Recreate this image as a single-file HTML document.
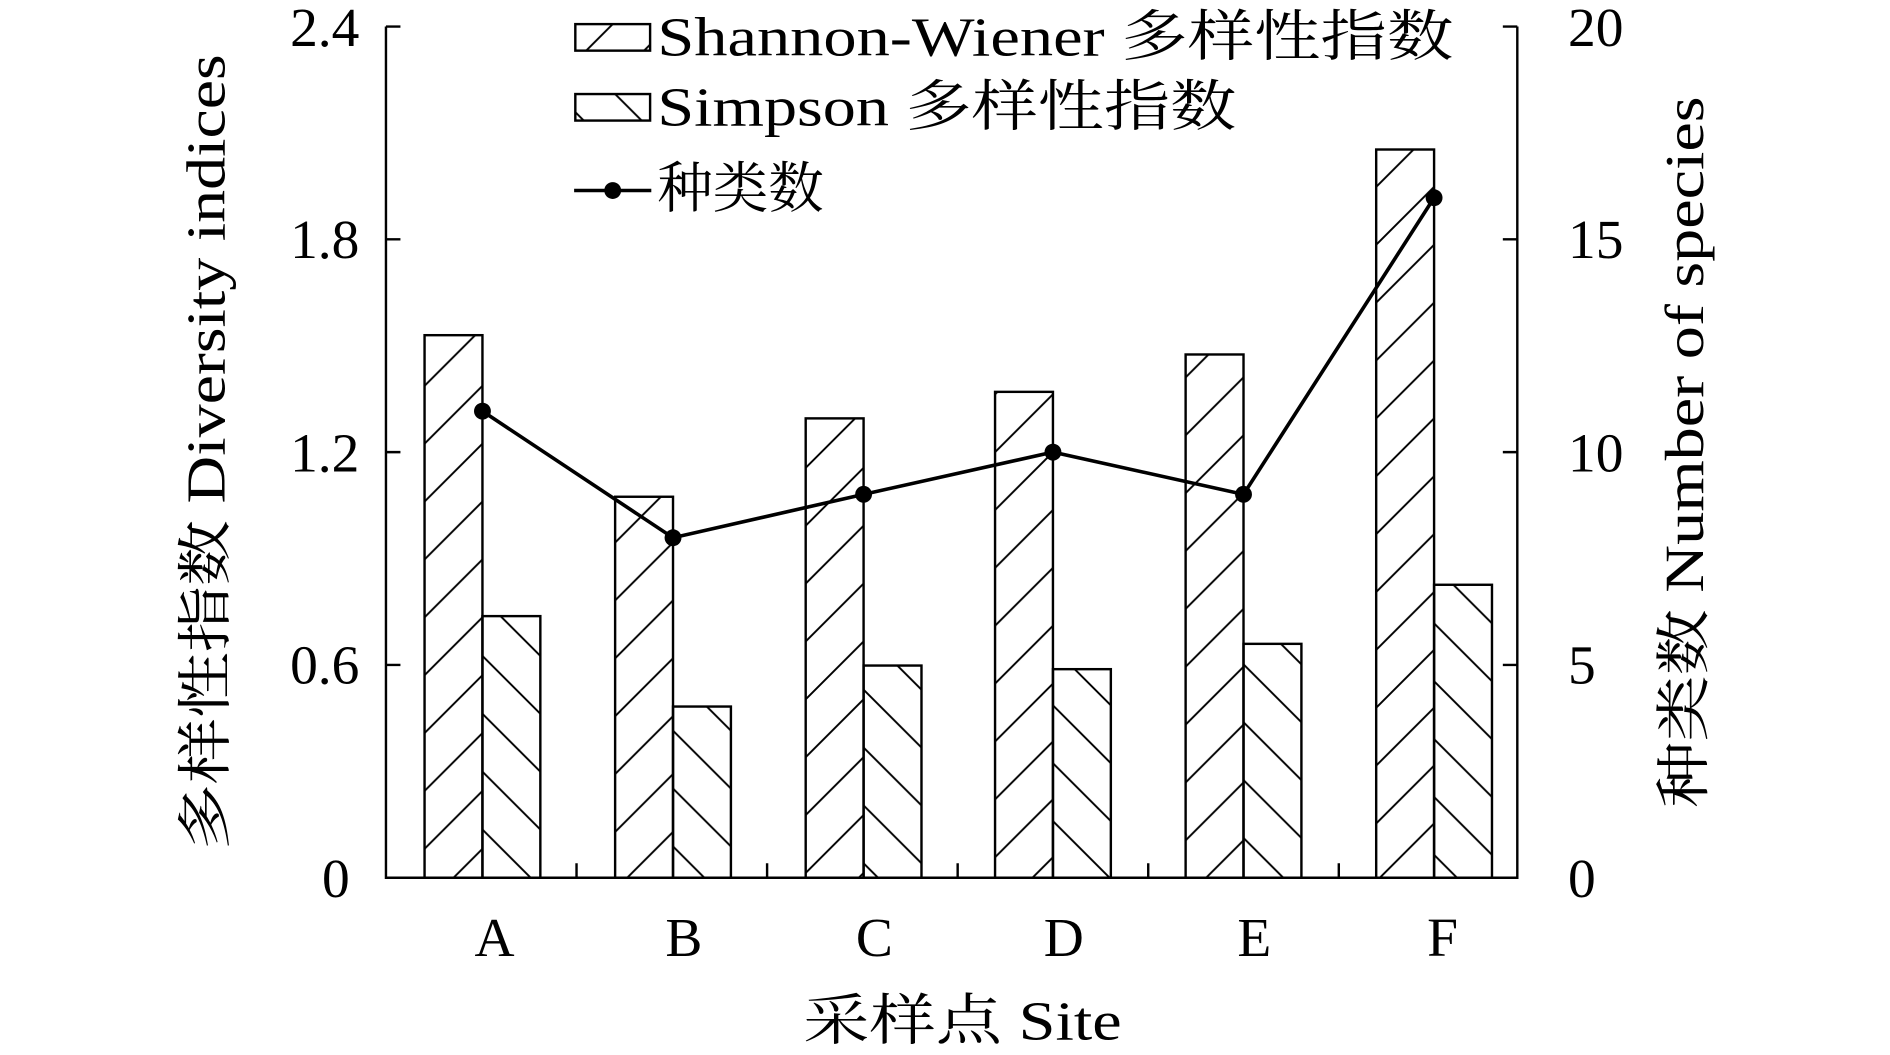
<!DOCTYPE html>
<html><head><meta charset="utf-8"><style>html,body{margin:0;padding:0;background:#fff;}svg{display:block}</style></head>
<body>
<svg width="1890" height="1055" viewBox="0 0 1567 875" preserveAspectRatio="none" xmlns="http://www.w3.org/2000/svg" style="font-family:'Liberation Serif','Noto Serif CJK SC',serif" fill="#000">
<defs>
<pattern id="p1" patternUnits="userSpaceOnUse" width="48" height="48"><path d="M-12,12 L12,-12 M0,48 L48,0 M36,60 L60,36" stroke="#000" stroke-width="1.6"/></pattern>
<pattern id="p2" patternUnits="userSpaceOnUse" width="48" height="48"><path d="M-12,36 L12,60 M0,0 L48,48 M36,-12 L60,12" stroke="#000" stroke-width="1.6"/></pattern>
</defs>
<g stroke="#000" stroke-width="2">
<rect x="352" y="278" width="48" height="450" fill="url(#p1)"/>
<rect x="510" y="412" width="48" height="316" fill="url(#p1)"/>
<rect x="668" y="347" width="48" height="381" fill="url(#p1)"/>
<rect x="825" y="325" width="48" height="403" fill="url(#p1)"/>
<rect x="983" y="294" width="48" height="434" fill="url(#p1)"/>
<rect x="1141" y="124" width="48" height="604" fill="url(#p1)"/>
<rect x="400" y="511" width="48" height="217" fill="url(#p2)"/>
<rect x="558" y="586" width="48" height="142" fill="url(#p2)"/>
<rect x="716" y="552" width="48" height="176" fill="url(#p2)"/>
<rect x="873" y="555" width="48" height="173" fill="url(#p2)"/>
<rect x="1031" y="534" width="48" height="194" fill="url(#p2)"/>
<rect x="1189" y="485" width="48" height="243" fill="url(#p2)"/>
<path d="M320,22 V728 H1258 V22" fill="none"/>
<path d="M320,22 h12 M320,198.5 h12 M320,375 h12 M320,551.5 h12 M1258,22 h-12 M1258,198.5 h-12 M1258,375 h-12 M1258,551.5 h-12 M478,728 v-12 M636,728 v-12 M794,728 v-12 M952,728 v-12 M1110,728 v-12" fill="none"/>
<polyline points="400,341 558,446 716,410 873,375 1031,410 1189,164" fill="none" stroke-width="3"/>
<rect x="477" y="20" width="62" height="22" fill="url(#p1)"/>
<rect x="477" y="78" width="62" height="22" fill="url(#p2)"/>
<line x1="476" y1="158" x2="540" y2="158" stroke-width="3"/>
</g>
<g>
<circle cx="400" cy="341" r="7"/><circle cx="558" cy="446" r="7"/><circle cx="716" cy="410" r="7"/><circle cx="873" cy="375" r="7"/><circle cx="1031" cy="410" r="7"/><circle cx="1189" cy="164" r="7"/><circle cx="508" cy="158" r="7"/>
</g>
<g font-size="46">
<text x="545" y="46" textLength="660" lengthAdjust="spacingAndGlyphs">Shannon-Wiener 多样性指数</text>
<text x="545" y="104" textLength="480" lengthAdjust="spacingAndGlyphs">Simpson 多样性指数</text>
<text x="545" y="172">种类数</text>
<g text-anchor="end"><text x="298" y="38">2.4</text><text x="298" y="214">1.8</text><text x="298" y="391">1.2</text><text x="298" y="567">0.6</text><text x="290" y="744">0</text></g>
<text x="1300" y="38">20</text><text x="1300" y="214">15</text><text x="1300" y="391">10</text><text x="1300" y="567">5</text><text x="1300" y="744">0</text>
<g text-anchor="middle"><text x="410" y="793">A</text><text x="567" y="793">B</text><text x="725" y="793">C</text><text x="882" y="793">D</text><text x="1040" y="793">E</text><text x="1196" y="793">F</text>
<text x="798" y="862" textLength="264" lengthAdjust="spacingAndGlyphs">采样点 Site</text>
<text transform="translate(186,375) rotate(-90)" textLength="660" lengthAdjust="spacingAndGlyphs">多样性指数 Diversity indices</text>
<text transform="translate(1412,375) rotate(-90)" textLength="590" lengthAdjust="spacingAndGlyphs">种类数 Number of species</text></g>
</g>
</svg>
</body></html>
